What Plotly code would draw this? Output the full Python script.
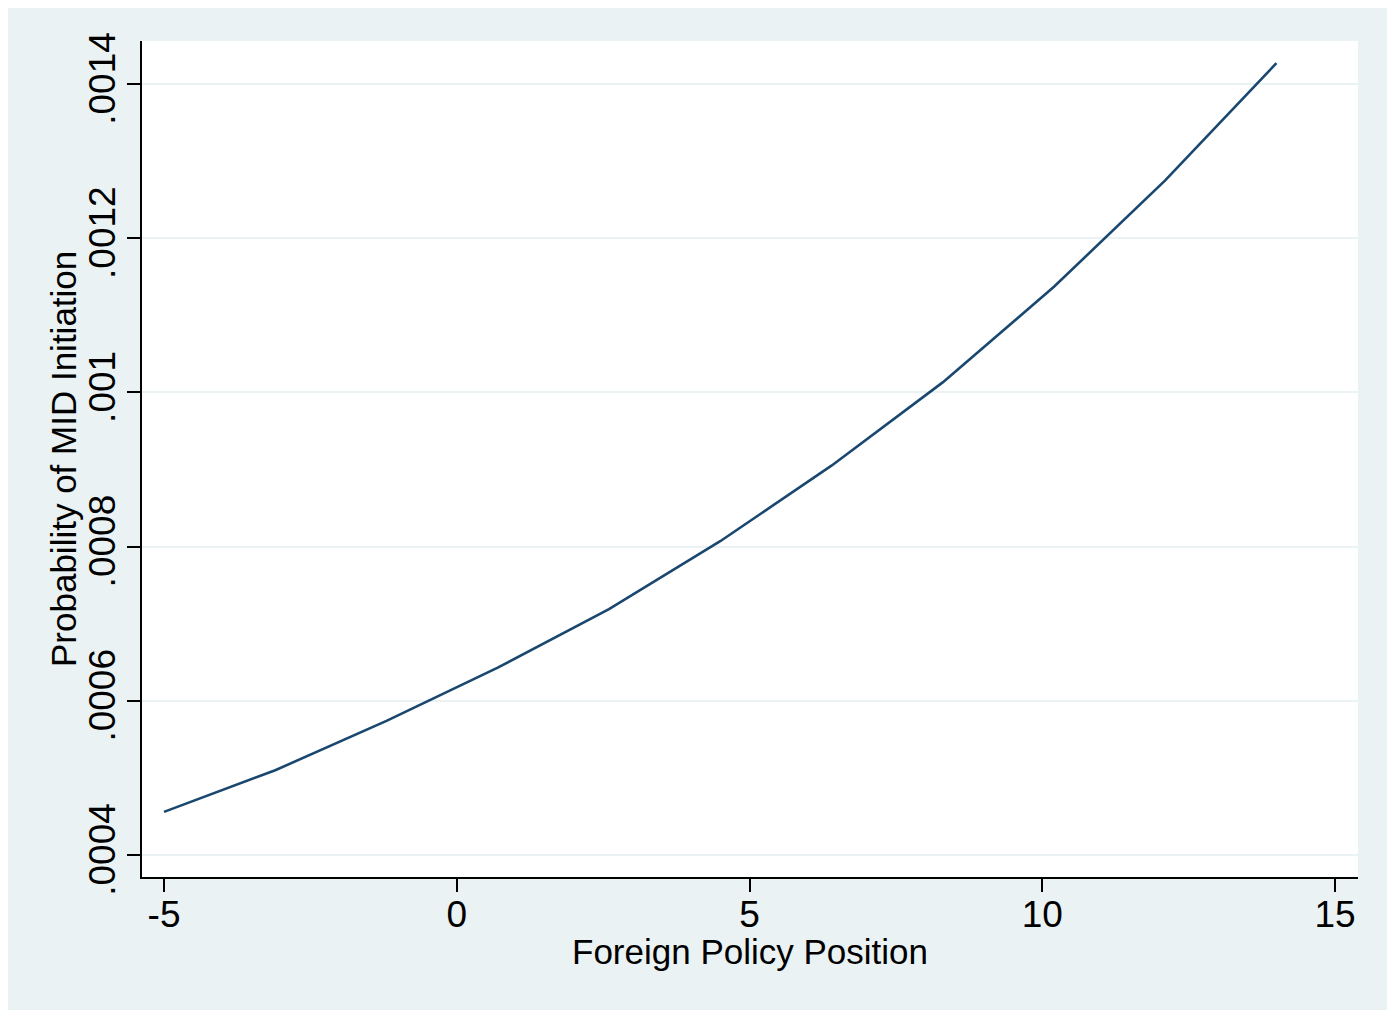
import plotly.graph_objects as go

# Data
foreign_policy_position = [-5.0, -3.1, -1.2, 0.7, 2.6, 4.5, 6.4, 8.3, 10.2, 12.1, 14.0]
prob_mid_initiation = [0.000456, 0.000510, 0.000574, 0.000643, 0.000719, 0.000807,
                       0.000905, 0.001013, 0.001137, 0.001275, 0.001427]

x_tick_vals = [-5, 0, 5, 10, 15]
x_tick_text = ["-5", "0", "5", "10", "15"]
y_tick_vals = [0.0004, 0.0006, 0.0008, 0.0010, 0.0012, 0.0014]
y_tick_text = [".0004", ".0006", ".0008", ".001", ".0012", ".0014"]
x_title = "Foreign Policy Position"
y_title = "Probability of MID Initiation"

BG = "#EAF2F3"
LINE = "#1A476F"
FONT = "Liberation Sans, Arial, Helvetica, sans-serif"

fig = go.Figure()
fig.add_trace(go.Scatter(
    x=foreign_policy_position, y=prob_mid_initiation,
    mode="lines", line=dict(color=LINE, width=2.6),
    showlegend=False, hoverinfo="x+y",
))

fig.update_layout(
    width=1387, height=1002,
    margin=dict(l=134, r=37, t=33, b=133),
    paper_bgcolor=BG, plot_bgcolor="white",
    font=dict(family=FONT, color="black", size=37),
    showlegend=False,
    annotations=[
        dict(text=x_title, xref="paper", yref="paper", x=0.5, y=0,
             xanchor="center", yanchor="middle", yshift=-74, showarrow=False,
             font=dict(size=35)),
        dict(text=y_title, xref="paper", yref="paper", x=0, y=0.5,
             xanchor="center", yanchor="middle", xshift=-79, textangle=-90,
             showarrow=False, font=dict(size=35)),
    ],
)

fig.update_xaxes(
    range=[-5.376, 15.393],
    tickvals=x_tick_vals, ticktext=x_tick_text,
    ticks="outside", ticklen=13, tickwidth=1.5, tickcolor="black",
    showline=True, linecolor="black", linewidth=1.5,
    showgrid=False, zeroline=False,
    tickfont=dict(size=37), ticklabelstandoff=-9,
)
fig.update_yaxes(
    range=[0.0003715, 0.0014558],
    tickvals=y_tick_vals, ticktext=y_tick_text,
    tickangle=-90,
    ticks="outside", ticklen=13, tickwidth=1.5, tickcolor="black",
    showline=True, linecolor="black", linewidth=1.5,
    showgrid=True, gridcolor=BG, gridwidth=2,
    zeroline=False,
    tickfont=dict(size=37), ticklabelstandoff=-3,
)

fig.write_html("out.html")
